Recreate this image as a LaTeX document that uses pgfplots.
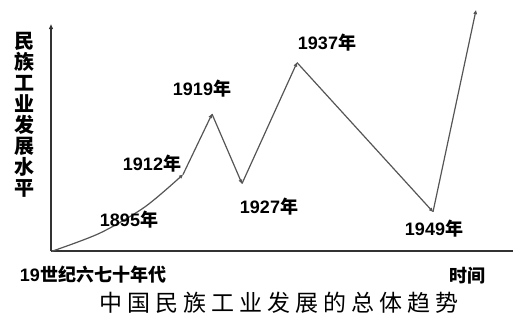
\documentclass[border=0pt]{standalone}
\usepackage{pgfplots}
\pgfplotsset{compat=1.18}
\usetikzlibrary{arrows.meta}
\usepackage{fontspec}
\setmainfont{Liberation Sans}
\newfontfamily\cjk{Noto Sans CJK SC}
\definecolor{lc}{HTML}{555555}
\definecolor{ac}{HTML}{333333}
\newcommand{\lab}[1]{\fontsize{18}{20}\selectfont\bfseries #1{\cjk 年}}
\begin{document}
\begin{tikzpicture}
\begin{axis}[
  width=462pt, height=227pt, scale only axis,
  xmin=0, xmax=462, ymin=0, ymax=225,
  axis lines=left,
  x axis line style={-, ac, line width=1.5pt},
  y axis line style={-{Triangle[length=5pt,width=4pt]}, ac, line width=1.5pt},
  xtick=\empty, ytick=\empty,
  clip=false,
]
\tikzset{seg/.style={lc, line width=1.2pt, -{Triangle[length=4pt,width=3.5pt]}}}
\addplot[seg, smooth] coordinates {(1,0) (49,18) (94,44) (132,76)};
\addplot[seg] coordinates {(132,76) (161,136)};
\addplot[seg] coordinates {(161,136) (191,67)};
\addplot[seg] coordinates {(191,67) (246,187)};
\addplot[seg] coordinates {(246,187) (382,39)};
\addplot[seg] coordinates {(382,39) (425,239)};

\node at (axis cs:78,31) {\lab{1895}};
\node at (axis cs:101,87) {\lab{1912}};
\node at (axis cs:151,161) {\lab{1919}};
\node at (axis cs:218,44) {\lab{1927}};
\node at (axis cs:276,207) {\lab{1937}};
\node at (axis cs:383,22) {\lab{1949}};
\node at (axis cs:42,-23) {\fontsize{18}{20}\selectfont\bfseries 19{\cjk 世纪六七十年代}};
\node at (axis cs:416,-24) {\fontsize{18}{20}\selectfont\bfseries\cjk 时间};
\node[align=center, font={\fontsize{20}{21}\selectfont\bfseries\cjk}] at (axis cs:-26,135) {民\\族\\工\\业\\发\\展\\水\\平};
\def\s{\hspace{5pt}}
\node at (axis cs:228,-51) {\fontsize{23}{26}\selectfont\cjk 中\s 国\s 民\s 族\s 工\s 业\s 发\s 展\s 的\s 总\s 体\s 趋\s 势};
\coordinate (bl) at (axis cs:-51,-69);
\coordinate (tr) at (axis cs:462,249);
\end{axis}
\pgfresetboundingbox
\useasboundingbox (bl) rectangle (tr);
\end{tikzpicture}
\end{document}
